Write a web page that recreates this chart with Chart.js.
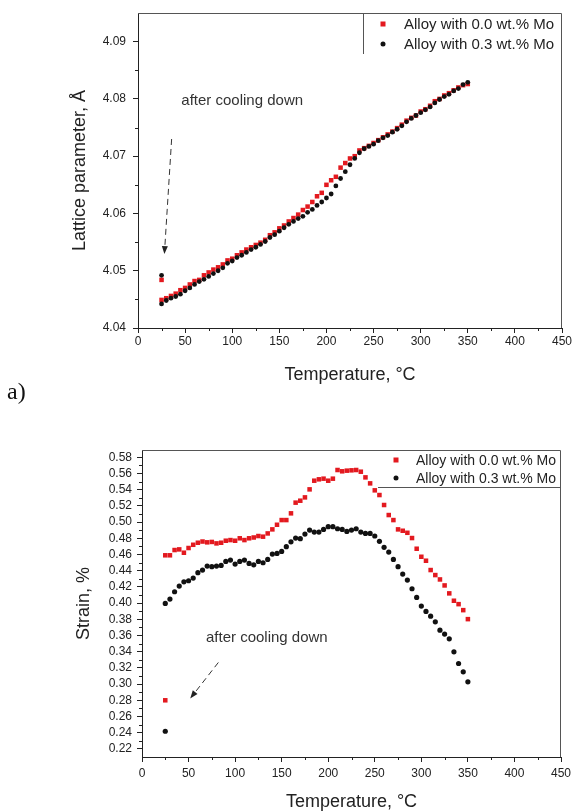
<!DOCTYPE html>
<html>
<head>
<meta charset="utf-8">
<script src="https://cdn.jsdelivr.net/npm/chart.js@4.4.1/dist/chart.umd.min.js"></script>
<style>
  html, body { margin: 0; padding: 0; background: #fff; width: 573px; height: 811px; overflow: hidden; }
  .box { position: absolute; left: 0; width: 573px; }
  #boxA { top: 0; height: 390px; }
  #boxB { top: 400px; height: 415px; }
  #labelA { position: absolute; left: 7px; top: 378px; font-family: "Liberation Serif", "Times New Roman", serif; font-size: 24px; color: #111; }
</style>
</head>
<body>
<div class="box" id="boxA"><canvas id="latticeChart"></canvas></div>
<div id="labelA">a)</div>
<div class="box" id="boxB"><canvas id="strainChart"></canvas></div>
<script>
// Temperatures of the heating run, degrees C
const temps = [25, 30, 35, 40, 45, 50, 55, 60, 65, 70, 75, 80, 85, 90, 95, 100, 105, 110, 115, 120,
  125, 130, 135, 140, 145, 150, 155, 160, 165, 170, 175, 180, 185, 190, 195, 200, 205, 210, 215, 220,
  225, 230, 235, 240, 245, 250, 255, 260, 265, 270, 275, 280, 285, 290, 295, 300, 305, 310, 315, 320,
  325, 330, 335, 340, 345, 350];

// Lattice parameter, A
const latticeMo00 = [4.0449, 4.0452, 4.0456, 4.0460, 4.0466, 4.0470, 4.0476, 4.0482, 4.0484, 4.0492,
  4.0497, 4.0502, 4.0506, 4.0511, 4.0518, 4.0521, 4.0527, 4.0532, 4.0537, 4.0541,
  4.0545, 4.0549, 4.0554, 4.0562, 4.0567, 4.0574, 4.0579, 4.0586, 4.0592, 4.0598,
  4.0606, 4.0612, 4.0620, 4.0630, 4.0636, 4.0650, 4.0658, 4.0664, 4.0680, 4.0688,
  4.0696, 4.0700, 4.0710, 4.0714, 4.0718, 4.0723, 4.0728, 4.0733, 4.0738, 4.0743,
  4.0749, 4.0755, 4.0762, 4.0767, 4.0771, 4.0778, 4.0782, 4.0788, 4.0796, 4.0800,
  4.0806, 4.0810, 4.0815, 4.0820, 4.0824, 4.0826];
const latticeMo03 = [4.0442, 4.0448, 4.0452, 4.0455, 4.0459, 4.0465, 4.0470, 4.0476, 4.0481, 4.0485,
  4.0490, 4.0495, 4.0500, 4.0505, 4.0513, 4.0517, 4.0523, 4.0527, 4.0532, 4.0537,
  4.0541, 4.0546, 4.0551, 4.0558, 4.0563, 4.0569, 4.0575, 4.0581, 4.0586, 4.0591,
  4.0595, 4.0602, 4.0607, 4.0614, 4.0620, 4.0627, 4.0634, 4.0648, 4.0661, 4.0673,
  4.0685, 4.0696, 4.0706, 4.0713, 4.0717, 4.0721, 4.0727, 4.0732, 4.0736, 4.0742,
  4.0747, 4.0753, 4.0760, 4.0766, 4.0771, 4.0776, 4.0781, 4.0786, 4.0793, 4.0799,
  4.0804, 4.0808, 4.0814, 4.0818, 4.0825, 4.0829];

// Strain, %
const strainMo00 = [0.459, 0.459, 0.4655, 0.4663, 0.4622, 0.468, 0.472, 0.4745, 0.476, 0.475,
  0.4755, 0.4737, 0.4745, 0.477, 0.4778, 0.477, 0.480, 0.4778, 0.480, 0.481,
  0.4828, 0.482, 0.486, 0.491, 0.4967, 0.5025, 0.5025, 0.5108, 0.524, 0.5264,
  0.5305, 0.5404, 0.5511, 0.5528, 0.5536, 0.5511, 0.5536, 0.5643, 0.5627, 0.5635,
  0.5639, 0.5643, 0.5622, 0.5552, 0.5478, 0.5392, 0.5334, 0.5211, 0.5087, 0.5025,
  0.491, 0.4893, 0.4868, 0.4803, 0.4671, 0.4572, 0.4523, 0.4408, 0.4346, 0.4292,
  0.4218, 0.412, 0.4029, 0.3987, 0.3913, 0.3802];
const strainMo03 = [0.3996, 0.405, 0.414, 0.421, 0.4263, 0.4276, 0.4309, 0.4375, 0.4408, 0.4457,
  0.4449, 0.4457, 0.4465, 0.4514, 0.4531, 0.4482, 0.4514, 0.4531, 0.449, 0.4473,
  0.4514, 0.4498, 0.4539, 0.4605, 0.4613, 0.4638, 0.4696, 0.4757, 0.4803, 0.4795,
  0.4852, 0.4902, 0.4877, 0.4877, 0.491, 0.4943, 0.4943, 0.4918, 0.491, 0.4885,
  0.4902, 0.4918, 0.4877, 0.486, 0.486, 0.4828, 0.4762, 0.4688, 0.463, 0.4539,
  0.4449, 0.4358, 0.4284, 0.4177, 0.407, 0.3963, 0.3897, 0.3839, 0.3769, 0.3666,
  0.3617, 0.3559, 0.3399, 0.3254, 0.3151, 0.3028];

// Measured again at room temperature after cooling down
const cooledTemp = [25];
const latticeCooledMo00 = [4.0484];
const latticeCooledMo03 = [4.0492];
const strainCooledMo00 = [0.280];
const strainCooledMo03 = [0.2418];

const seriesNames = ['Alloy with 0.0 wt.% Mo', 'Alloy with 0.3 wt.% Mo'];
const xTicks = [0, 50, 100, 150, 200, 250, 300, 350, 400, 450];

const RED = '#e3191f';
const BLACK = '#111111';
const AXIS = '#222222';

Chart.defaults.font.family = "'Liberation Sans', Arial, sans-serif";
Chart.defaults.color = AXIS;

function toPoints(xs, ys) {
    return xs.map((x, i) => ({ x: x, y: ys[i] }));
}

// short ticks half way between the labelled ones
const minorTicks = {
    id: 'minorTicks',
    afterDraw(chart) {
        const ctx = chart.ctx;
        ctx.save();
        ctx.strokeStyle = AXIS;
        ctx.lineWidth = 1;
        ['x', 'y'].forEach(id => {
            const scale = chart.scales[id];
            const ticks = scale.ticks;
            for (let i = 0; i < ticks.length - 1; i++) {
                const mid = (ticks[i].value + ticks[i + 1].value) / 2;
                const p = Math.round(scale.getPixelForValue(mid)) + 0.5;
                ctx.beginPath();
                if (id === 'x') {
                    ctx.moveTo(p, scale.top);
                    ctx.lineTo(p, scale.top + 3);
                } else {
                    ctx.moveTo(scale.right, p);
                    ctx.lineTo(scale.right - 3, p);
                }
                ctx.stroke();
            }
        });
        ctx.restore();
    }
};

// top and right edges of the frame
const frame = {
    id: 'frame',
    afterDraw(chart) {
        const { ctx, chartArea: a } = chart;
        ctx.save();
        ctx.strokeStyle = '#555';
        ctx.lineWidth = 1;
        ctx.beginPath();
        ctx.moveTo(a.left, a.top + 0.5);
        ctx.lineTo(a.right - 0.5, a.top + 0.5);
        ctx.lineTo(a.right - 0.5, a.bottom);
        ctx.stroke();
        ctx.restore();
    }
};

// legend drawn inside the plot, top right
const insideLegend = {
    id: 'insideLegend',
    afterDraw(chart, args, o) {
        const { ctx, chartArea: a } = chart;
        ctx.save();
        ctx.strokeStyle = '#555';
        ctx.lineWidth = 1;
        ctx.beginPath();
        if (o.divider === 'vertical') {
            ctx.moveTo(a.right - o.width + 0.5, a.top);
            ctx.lineTo(a.right - o.width + 0.5, a.top + o.height);
        } else {
            ctx.moveTo(a.right - o.width, a.top + o.height + 0.5);
            ctx.lineTo(a.right, a.top + o.height + 0.5);
        }
        ctx.stroke();
        ctx.font = o.fontSize + "px 'Liberation Sans', Arial, sans-serif";
        ctx.textBaseline = 'middle';
        seriesNames.forEach((name, i) => {
            const y = a.top + o.rows[i];
            const mx = a.right - o.markerX;
            if (i === 0) {
                ctx.fillStyle = RED;
                ctx.fillRect(mx - 2.5, y - 2.5, 5, 5);
            } else {
                ctx.fillStyle = BLACK;
                ctx.beginPath();
                ctx.arc(mx, y, 2.5, 0, Math.PI * 2);
                ctx.fill();
            }
            ctx.fillStyle = AXIS;
            ctx.fillText(name, a.right - o.textX, y + 1);
        });
        ctx.restore();
    }
};

// "after cooling down" note with a dashed arrow, placed in data units
const coolingNote = {
    id: 'coolingNote',
    afterDraw(chart, args, o) {
        const { ctx, scales: { x, y } } = chart;
        ctx.save();
        ctx.font = "15px 'Liberation Sans', Arial, sans-serif";
        ctx.fillStyle = '#333';
        ctx.textBaseline = 'middle';
        ctx.fillText(o.text, x.getPixelForValue(o.textAt[0]), y.getPixelForValue(o.textAt[1]));
        const x1 = x.getPixelForValue(o.from[0]), y1 = y.getPixelForValue(o.from[1]);
        const x2 = x.getPixelForValue(o.to[0]), y2 = y.getPixelForValue(o.to[1]);
        const ang = Math.atan2(y2 - y1, x2 - x1);
        ctx.strokeStyle = '#333';
        ctx.lineWidth = 1;
        ctx.setLineDash([6, 4]);
        ctx.beginPath();
        ctx.moveTo(x1, y1);
        ctx.lineTo(x2 - 6 * Math.cos(ang), y2 - 6 * Math.sin(ang));
        ctx.stroke();
        ctx.setLineDash([]);
        ctx.fillStyle = '#222';
        ctx.beginPath();
        ctx.moveTo(x2, y2);
        ctx.lineTo(x2 - 8 * Math.cos(ang) + 3 * Math.sin(ang), y2 - 8 * Math.sin(ang) - 3 * Math.cos(ang));
        ctx.lineTo(x2 - 8 * Math.cos(ang) - 3 * Math.sin(ang), y2 - 8 * Math.sin(ang) + 3 * Math.cos(ang));
        ctx.closePath();
        ctx.fill();
        ctx.restore();
    }
};

function makeOptions(cfg) {
    return {
        responsive: true,
        maintainAspectRatio: false,
        animation: false,
        layout: { padding: cfg.padding },
        plugins: {
            legend: { display: false },
            tooltip: { enabled: false },
            insideLegend: cfg.legend,
            coolingNote: cfg.note
        },
        scales: {
            x: {
                type: 'linear',
                min: 0,
                max: 450,
                afterBuildTicks: s => { s.ticks = xTicks.map(v => ({ value: v })); },
                ticks: { padding: cfg.xPad, font: { size: 12 }, color: AXIS, maxRotation: 0, autoSkip: false },
                grid: { drawOnChartArea: false, tickLength: 5, color: AXIS },
                border: { color: AXIS },
                title: { display: true, text: 'Temperature, °C', font: { size: 18 }, color: AXIS, padding: 0 },
                afterFit: s => {
                    s.height = cfg.xHeight;
                    s.paddingLeft = 0; s.paddingRight = 0;
                }
            },
            y: {
                type: 'linear',
                min: cfg.yMin,
                max: cfg.yMax,
                ticks: {
                    stepSize: cfg.yStep,
                    includeBounds: false,
                    autoSkip: false,
                    padding: cfg.yPad,
                    font: { size: 12 },
                    color: AXIS,
                    callback: v => v.toFixed(2)
                },
                grid: { drawOnChartArea: false, tickLength: 5, color: AXIS },
                border: { color: AXIS },
                title: { display: true, text: cfg.yTitle, font: { size: 18 }, color: AXIS, padding: 0 },
                afterFit: s => {
                    s.width = cfg.yWidth;
                    s.paddingTop = 0; s.paddingBottom = 0;
                }
            }
        }
    };
}

function makeDatasets(redY, blackY, redCooled, blackCooled, redR, blackR) {
    return [
        {
            label: seriesNames[0],
            data: toPoints(temps, redY).concat(toPoints(cooledTemp, redCooled)),
            pointStyle: 'rect',
            pointRadius: redR,
            backgroundColor: RED,
            borderColor: RED,
            borderWidth: 0,
            showLine: false,
            order: 2
        },
        {
            label: seriesNames[1],
            data: toPoints(temps, blackY).concat(toPoints(cooledTemp, blackCooled)),
            pointStyle: 'circle',
            pointRadius: blackR,
            backgroundColor: BLACK,
            borderColor: BLACK,
            borderWidth: 0,
            showLine: false,
            order: 1
        }
    ];
}

new Chart(document.getElementById('latticeChart'), {
    type: 'scatter',
    data: { datasets: makeDatasets(latticeMo00, latticeMo03, latticeCooledMo00, latticeCooledMo03, 3.2, 2.4) },
    options: makeOptions({
        padding: { left: 69, top: 13, right: 11, bottom: 4 },
        xHeight: 58, yWidth: 69, xPad: 1, yPad: 7,
        yMin: 4.04, yMax: 4.095, yStep: 0.01,
        yTitle: 'Lattice parameter, Å',
        legend: { divider: 'vertical', width: 199, height: 41, markerX: 179, textX: 158, rows: [11, 31], fontSize: 15 },
        note: { text: 'after cooling down', textAt: [46, 4.0797], from: [35.7, 4.0730], to: [28, 4.0529] }
    }),
    plugins: [minorTicks, frame, insideLegend, coolingNote]
});

new Chart(document.getElementById('strainChart'), {
    type: 'scatter',
    data: { datasets: makeDatasets(strainMo00, strainMo03, strainCooledMo00, strainCooledMo03, 3.2, 2.6) },
    options: makeOptions({
        padding: { left: 73, top: 50, right: 12, bottom: 2 },
        xHeight: 56, yWidth: 69, xPad: 4, yPad: 5,
        yMin: 0.21, yMax: 0.589, yStep: 0.02,
        yTitle: 'Strain, %',
        legend: { divider: 'horizontal', width: 183, height: 37, markerX: 165, textX: 145, rows: [10, 28], fontSize: 14 },
        note: { text: 'after cooling down', textAt: [68.7, 0.3571], from: [82, 0.3267], to: [51.8, 0.2822] }
    }),
    plugins: [minorTicks, frame, insideLegend, coolingNote]
});
</script>
</body>
</html>
